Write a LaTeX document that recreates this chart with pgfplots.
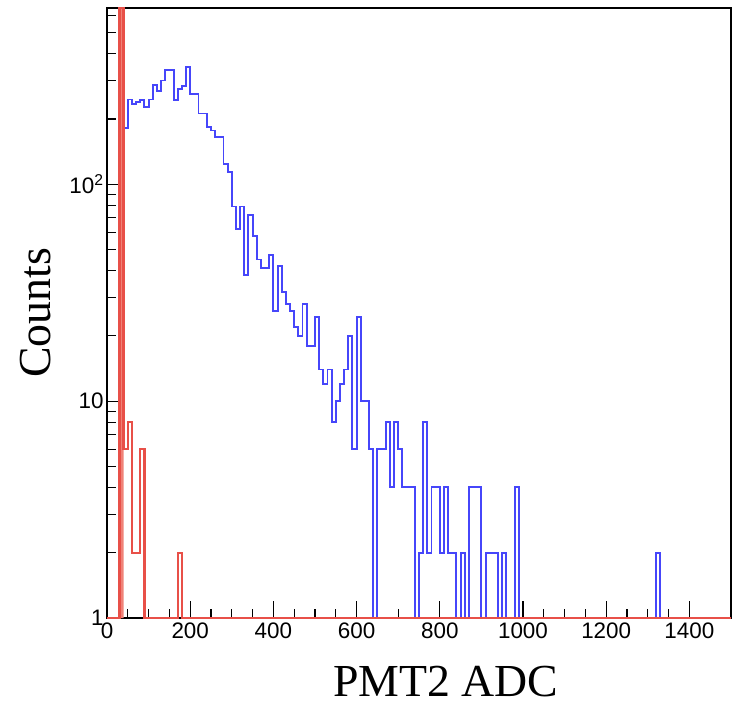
\documentclass[border=0pt]{standalone}
\usepackage{pgfplots}
\pgfplotsset{compat=1.18}
\usepackage{fontspec}
\setmainfont{Liberation Serif}
\setsansfont{Liberation Sans}
\definecolor{hblue}{RGB}{70,70,250}
\definecolor{hred}{RGB}{232,80,72}
\definecolor{hredfill}{RGB}{240,130,120}
\begin{document}
\begin{tikzpicture}
\path[use as bounding box] (-107bp,-89bp) rectangle (626bp,618bp);
\begin{axis}[
  at={(0,0)}, anchor=south west,
  scale only axis, width=624bp, height=610bp,
  xmin=0, xmax=1500, ymode=log, ymin=1, ymax=650,
  xtick={0,200,...,1400}, xticklabels={0,200,400,600,800,1000,1200,1400},
  minor x tick num=3,
  ytick={1,10,100}, yticklabels={1,10,10\textsuperscript{2}},
  minor ytick={2,3,4,5,6,7,8,9,20,30,40,50,60,70,80,90,200,300,400,500,600},
  xtick pos=bottom, ytick pos=left,
  tick align=inside,
  major tick length=17bp, minor tick length=9bp,
  tick style={black, line width=1.1bp},
  axis line style={black, line width=1.1bp},
  ticklabel style={font=\fontsize{22.5}{24}\selectfont\sffamily},
  xticklabel style={yshift=-1bp},
  xlabel={PMT2 ADC}, ylabel={Counts},
  every axis x label/.style={at={(axis description cs:0.543,-0.128)}, anchor=base, font=\fontsize{46}{50}\selectfont\rmfamily},
  every axis y label/.style={at={(axis description cs:-0.114,0.5)}, rotate=90, anchor=center, font=\fontsize{46}{50}\selectfont\rmfamily},
  clip=false,
]
\addplot[const plot, draw=hblue, line width=1.9bp] coordinates {
(30,219) (40,181) (50,246) (60,235) (70,240) (80,244) (90,227) (100,246) (110,286) (120,270)
(130,301) (140,338) (150,338) (160,244) (170,275) (180,283) (190,347) (200,261) (210,261) (220,212)
(230,212) (240,184) (250,177) (260,165) (270,165) (280,124) (290,114) (300,79) (310,62) (320,79)
(330,38) (340,72) (350,58) (360,45) (370,41) (380,41) (390,47) (400,26) (410,42) (420,32)
(430,28) (440,26) (450,22) (460,20) (470,28) (480,18) (490,18) (500,24.5) (510,14) (520,12)
(530,14) (540,8) (550,10) (560,12) (570,14) (580,20) (590,6) (600,24.5) (610,10) (620,10)
(630,6) (640,1) (650,6) (660,6) (670,8) (680,4) (690,8) (700,6) (710,4) (720,4)
(730,4) (740,1) (750,2) (760,8) (770,2) (780,4) (790,4) (800,2) (810,4) (820,2)
(830,2) (840,1) (850,2) (860,1) (870,4) (880,4) (890,4) (900,1) (910,2) (920,2)
(930,2) (940,1) (950,2) (960,1) (970,1) (980,4) (990,1) (1320,2) (1330,1) (1500,1)
};
\addplot[fill=hredfill, draw=none] coordinates {(30,1) (30,650) (40,650) (40,1)} \closedcycle;
\addplot[const plot, draw=hred, line width=2.3bp] coordinates {
(0,1) (30,650) (40,6) (50,8) (60,2) (70,2) (80,6) (90,1) (170,2) (180,1) (1500,1)
};
\end{axis}
\end{tikzpicture}
\end{document}
